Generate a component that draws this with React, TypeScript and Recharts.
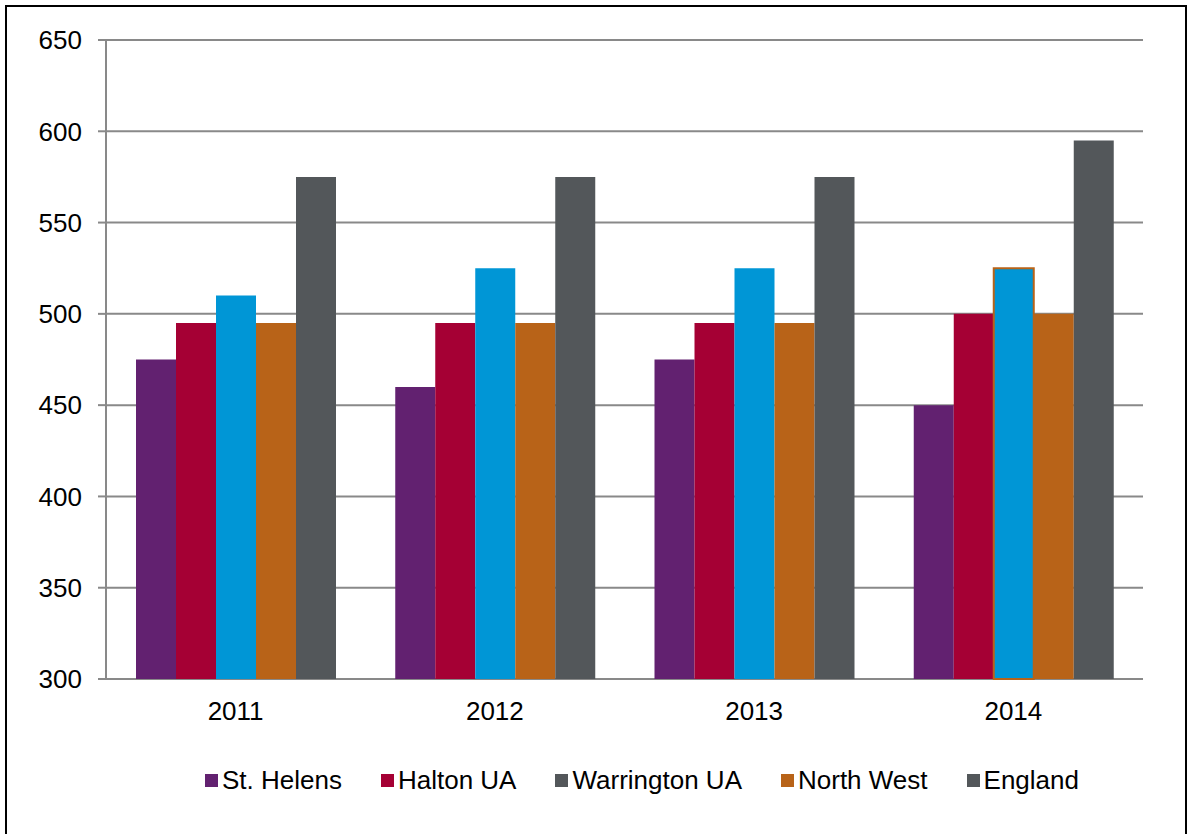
import { BarChart, Bar, XAxis, YAxis, CartesianGrid, Legend, Cell } from 'recharts'

const years = ['2011', '2012', '2013', '2014']
const stHelens = [475, 460, 475, 450]
const halton = [495, 495, 495, 500]
const warrington = [510, 525, 525, 525]
const northWest = [495, 495, 495, 500]
const england = [575, 575, 575, 595]
const yTicks = [300, 350, 400, 450, 500, 550, 600, 650]
const edgeTicks = [0, 1, 2, 3, 4]

const series = [
  { key: 'stHelens', name: 'St. Helens', color: '#622170', legendColor: '#622170' },
  { key: 'halton', name: 'Halton UA', color: '#A50034', legendColor: '#A50034' },
  { key: 'warrington', name: 'Warrington UA', color: '#0096D6', legendColor: '#53575A' },
  { key: 'northWest', name: 'North West', color: '#B86318', legendColor: '#B86318' },
  { key: 'england', name: 'England', color: '#53575A', legendColor: '#53575A' },
]

const data = years.map((year, i) => ({
  year,
  stHelens: stHelens[i],
  halton: halton[i],
  warrington: warrington[i],
  northWest: northWest[i],
  england: england[i],
}))

const font = '"Liberation Sans", Arial, sans-serif'
const axisGray = '#898989'

// legend swatch for Warrington is grey in the original, so it is drawn by hand
const renderLegend = () => (
  <div style={{ display: 'flex', alignItems: 'center', marginLeft: 205, fontFamily: font, fontSize: 26, color: '#000', lineHeight: '30px' }}>
    {series.map((s) => (
      <div key={s.key} style={{ display: 'flex', alignItems: 'center', marginRight: 39 }}>
        <span style={{ display: 'inline-block', width: 13, height: 13, background: s.legendColor, marginRight: 4 }} />
        <span>{s.name}</span>
      </div>
    ))}
  </div>
)

const App = () => {
  return (
    <div style={{ position: 'absolute', left: 0, top: 0, width: 1193, height: 834, background: '#fff', overflow: 'hidden' }}>
      <div style={{ position: 'absolute', left: 5, top: 5, width: 1182, height: 860, border: '2px solid #000', boxSizing: 'border-box' }} />
      <BarChart
        width={1193}
        height={834}
        data={data}
        margin={{ top: 40, right: 50, left: 0, bottom: 51 }}
        barGap={0}
        barSize={40}
        style={{ position: 'absolute', left: 0, top: 0 }}
      >
        <CartesianGrid horizontal vertical={false} stroke={axisGray} strokeWidth={2} />
        <XAxis
          xAxisId="edge"
          type="number"
          domain={[0, 4]}
          ticks={edgeTicks}
          tick={false}
          height={0}
          stroke={axisGray}
          strokeWidth={2}
          tickSize={8}
        />
        <XAxis
          dataKey="year"
          axisLine={false}
          tickLine={false}
          height={74}
          tickMargin={17}
          tick={{ fill: '#000', fontSize: 26, fontFamily: font }}
        />
        <YAxis
          domain={[300, 650]}
          ticks={yTicks}
          width={106}
          stroke={axisGray}
          strokeWidth={2}
          tickSize={8}
          tickMargin={16}
          tick={{ fill: '#000', fontSize: 26, fontFamily: font }}
          interval={0}
        />
        <Legend verticalAlign="bottom" content={renderLegend} wrapperStyle={{ bottom: 39, left: 0, width: 1193 }} />
        {series.map((s) => (
          <Bar key={s.key} dataKey={s.key} name={s.name} fill={s.color} isAnimationActive={false}>
            {s.key === 'warrington'
              ? data.map((d, i) => (
                  <Cell key={d.year} fill={s.color} stroke={i === 3 ? '#B86318' : 'none'} strokeWidth={i === 3 ? 2 : 0} />
                ))
              : null}
          </Bar>
        ))}
      </BarChart>
    </div>
  )
}

export default App
